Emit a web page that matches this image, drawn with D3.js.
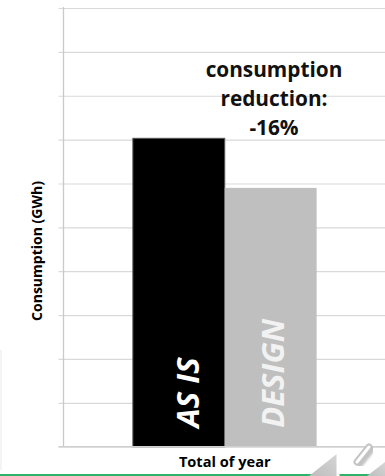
<!DOCTYPE html>
<html>
<head>
<meta charset="utf-8">
<script src="https://cdn.jsdelivr.net/npm/d3@7"></script>
<style>
  html, body { margin: 0; padding: 0; background: #ffffff; }
  svg { display: block; }
  text { font-family: "Open Sans", "DejaVu Sans", sans-serif; }
</style>
</head>
<body>
<svg id="chart" width="385" height="476"></svg>
<script>
// Annual consumption, current state vs. design (GWh)
const categories = ["Total of year"];
const series = ["AS IS", "DESIGN"];
const values = [7.03, 5.9];
const yMax = 10;
const yTickCount = 10;
const yTitle = "Consumption (GWh)";
const noteLines = ["consumption", "reduction:"];

const seriesFill = { "AS IS": "#000000", "DESIGN": "#bfbfbf" };
const seriesText = { "AS IS": "#ffffff", "DESIGN": "#f2f2f2" };
const seriesStroke = { "AS IS": "#595959", "DESIGN": "none" };

const W = 385, H = 476;
const plot = { left: 63.5, right: 386, top: 8, bottom: 446.7 };

const svg = d3.select("#chart");

const x = d3.scaleBand().domain(categories).range([plot.left, plot.right]).padding(0.274);
const xs = d3.scaleBand().domain(series).range([0, x.bandwidth()]).padding(0);
const y = d3.scaleLinear().domain([0, yMax]).range([plot.bottom, plot.top]);

// horizontal gridlines with short ticks on the left
const yAxis = d3.axisLeft(y)
  .ticks(yTickCount)
  .tickSize(-(plot.right - plot.left) - 5)
  .tickSizeOuter(0)
  .tickFormat("");
const gy = svg.append("g")
  .attr("transform", `translate(${plot.left},0)`)
  .call(yAxis);
gy.select(".domain").remove();
gy.selectAll(".tick line")
  .attr("x1", -5)
  .attr("stroke", "#d9d9d9")
  .attr("stroke-width", 1.2);

// vertical axis line
svg.append("line")
  .attr("x1", plot.left).attr("x2", plot.left)
  .attr("y1", y(yMax) - 1).attr("y2", y(0))
  .attr("stroke", "#c9c9c9").attr("stroke-width", 1.3);

// bars
const group = svg.append("g").attr("transform", `translate(${x(categories[0])},0)`);
group.selectAll("rect.bar")
  .data(series.map((s, i) => ({ s, v: values[i] })))
  .join("rect")
  .attr("class", "bar")
  .attr("x", d => xs(d.s))
  .attr("width", xs.bandwidth())
  .attr("y", d => y(d.v))
  .attr("height", d => y(0) - y(d.v))
  .attr("fill", d => seriesFill[d.s])
  .attr("stroke", d => seriesStroke[d.s])
  .attr("stroke-width", 1);

// baseline drawn over the bars
svg.append("line")
  .attr("x1", plot.left - 5).attr("x2", W)
  .attr("y1", y(0)).attr("y2", y(0))
  .attr("stroke", "#d0d0d0").attr("stroke-width", 1.3);

// series names written up the inside of each bar
const labelShift = { "AS IS": 20, "DESIGN": 13 };
group.selectAll("text.slabel")
  .data(series)
  .join("text")
  .attr("class", "slabel")
  .attr("transform", s => `translate(${xs(s) + xs.bandwidth() / 2 + labelShift[s]},${y(0) - 19}) rotate(-90)`)
  .attr("text-anchor", "start")
  .attr("font-size", 31)
  .attr("font-weight", 700)
  .attr("font-style", "italic")
  .attr("fill", s => seriesText[s])
  .text(s => s);

// category label
svg.append("text")
  .attr("x", x(categories[0]) + x.bandwidth() / 2)
  .attr("y", 467)
  .attr("text-anchor", "middle")
  .attr("font-size", 14.6)
  .attr("font-weight", 700)
  .attr("fill", "#000")
  .text(categories[0]);

// y axis title
svg.append("text")
  .attr("transform", `translate(41.5,251) rotate(-90)`)
  .attr("text-anchor", "middle")
  .attr("font-size", 14)
  .attr("font-weight", 700)
  .attr("fill", "#000")
  .text(yTitle);

// reduction note, percentage taken from the two values
const pct = Math.round((values[1] / values[0] - 1) * 100);
const note = svg.append("text")
  .attr("text-anchor", "middle")
  .attr("font-size", 20.8)
  .attr("font-weight", 700)
  .attr("fill", "#111");
noteLines.concat([`${pct}%`]).forEach((t, i) => {
  note.append("tspan").attr("x", 274).attr("y", 77 + i * 29).text(t);
});

// slide footer: green rule and decorations
const defs = svg.append("defs");
const grad = defs.append("linearGradient").attr("id", "tri").attr("x1", 0).attr("y1", 1).attr("x2", 1).attr("y2", 0);
grad.append("stop").attr("offset", "0%").attr("stop-color", "#bdbdbd");
grad.append("stop").attr("offset", "100%").attr("stop-color", "#d6d6d6");
defs.append("filter").attr("id", "soft").append("feGaussianBlur").attr("stdDeviation", 1.2);

svg.append("rect").attr("x", 0).attr("y", 474).attr("width", W).attr("height", 2).attr("fill", "#2fb36a");
svg.append("line").attr("x1", 1).attr("x2", 1).attr("y1", 350).attr("y2", 470)
  .attr("stroke", "#f0f0f0").attr("stroke-width", 1.5);

svg.append("path").attr("d", "M309,476 L338,453 L338,476 Z").attr("fill", "url(#tri)");
svg.append("path").attr("d", "M338,476 L338,453").attr("stroke", "#ffffff").attr("stroke-width", 3);
svg.append("path").attr("d", "M367,476 L385,462 L385,476 Z").attr("fill", "url(#tri)");

svg.append("line").attr("x1", 359).attr("y1", 464).attr("x2", 371).attr("y2", 449)
  .attr("stroke", "#9a9a9a").attr("stroke-width", 8).attr("stroke-linecap", "round")
  .attr("filter", "url(#soft)").attr("opacity", 0.6);
svg.append("line").attr("x1", 357).attr("y1", 462).attr("x2", 369).attr("y2", 447)
  .attr("stroke", "#c4c4c4").attr("stroke-width", 7).attr("stroke-linecap", "round");
svg.append("line").attr("x1", 357).attr("y1", 462).attr("x2", 369).attr("y2", 447)
  .attr("stroke", "#ffffff").attr("stroke-width", 3).attr("stroke-linecap", "round");
</script>
</body>
</html>
